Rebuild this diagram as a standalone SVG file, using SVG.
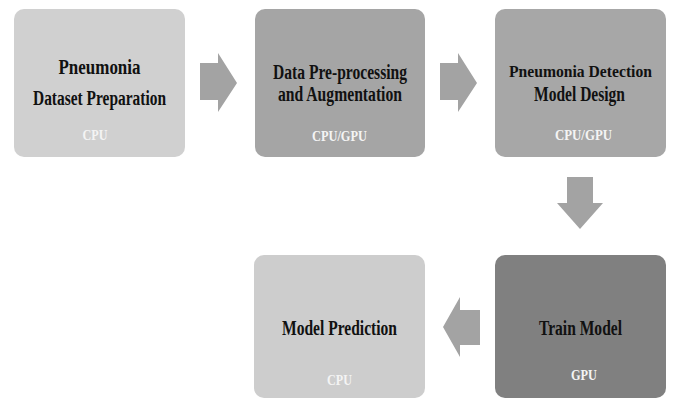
<svg xmlns="http://www.w3.org/2000/svg" width="673" height="400" viewBox="0 0 673 400">
<style>
.t{font-family:"Liberation Serif","Times New Roman",serif;font-weight:bold;font-size:20px;fill:#111;text-anchor:middle}
.s{font-family:"Liberation Serif","Times New Roman",serif;font-weight:bold;font-size:15px;fill:#f4f4f4;text-anchor:middle}
.arr{fill:#a3a3a3}
</style>
<rect width="673" height="400" fill="#ffffff"/>
<g id="n1">
<rect x="14" y="9" width="171" height="148" rx="10" fill="#d0d0d0"/>
<text class="t" x="99.5" y="74" textLength="82" lengthAdjust="spacingAndGlyphs">Pneumonia</text>
<text class="t" x="99.5" y="105" textLength="133" lengthAdjust="spacingAndGlyphs">Dataset Preparation</text>
<text class="s" x="95" y="140" textLength="25" lengthAdjust="spacingAndGlyphs">CPU</text>
</g>
<g id="n2">
<rect x="255" y="9" width="170" height="148" rx="10" fill="#a5a5a5"/>
<text class="t" x="340" y="79" textLength="134" lengthAdjust="spacingAndGlyphs">Data Pre-processing</text>
<text class="t" x="340" y="101" textLength="124" lengthAdjust="spacingAndGlyphs">and Augmentation</text>
<text class="s" x="339.5" y="141" textLength="55" lengthAdjust="spacingAndGlyphs">CPU/GPU</text>
</g>
<g id="n3">
<rect x="495" y="9" width="171" height="148" rx="10" fill="#a7a7a7"/>
<text class="t" x="580.5" y="77" style="font-size:17px" textLength="143" lengthAdjust="spacingAndGlyphs">Pneumonia Detection</text>
<text class="t" x="579.5" y="101" textLength="91" lengthAdjust="spacingAndGlyphs">Model Design</text>
<text class="s" x="583.5" y="140" textLength="57" lengthAdjust="spacingAndGlyphs">CPU/GPU</text>
</g>
<g id="n4">
<rect x="254" y="255" width="171" height="143" rx="10" fill="#cdcdcd"/>
<text class="t" x="339.5" y="335" textLength="115" lengthAdjust="spacingAndGlyphs">Model Prediction</text>
<text class="s" x="339.5" y="385" textLength="25" lengthAdjust="spacingAndGlyphs">CPU</text>
</g>
<g id="n5">
<rect x="495" y="255" width="171" height="143" rx="10" fill="#808080"/>
<text class="t" x="580.5" y="335" textLength="83" lengthAdjust="spacingAndGlyphs">Train Model</text>
<text class="s" x="584" y="380" textLength="26" lengthAdjust="spacingAndGlyphs">GPU</text>
</g>
<g id="connectors">
<polygon class="arr" points="200,63 218,63 218,53 237,83 218,112 218,100 200,100"/>
<polygon class="arr" points="440,63 458,63 458,53 477,83 458,112 458,100 440,100"/>
<polygon class="arr" points="567,177 593,177 593,203 603,203 580,229 557,203 567,203"/>
<polygon class="arr" points="480,310 460,310 460,297 443,327 460,357 460,345 480,345"/>
</g>
</svg>
